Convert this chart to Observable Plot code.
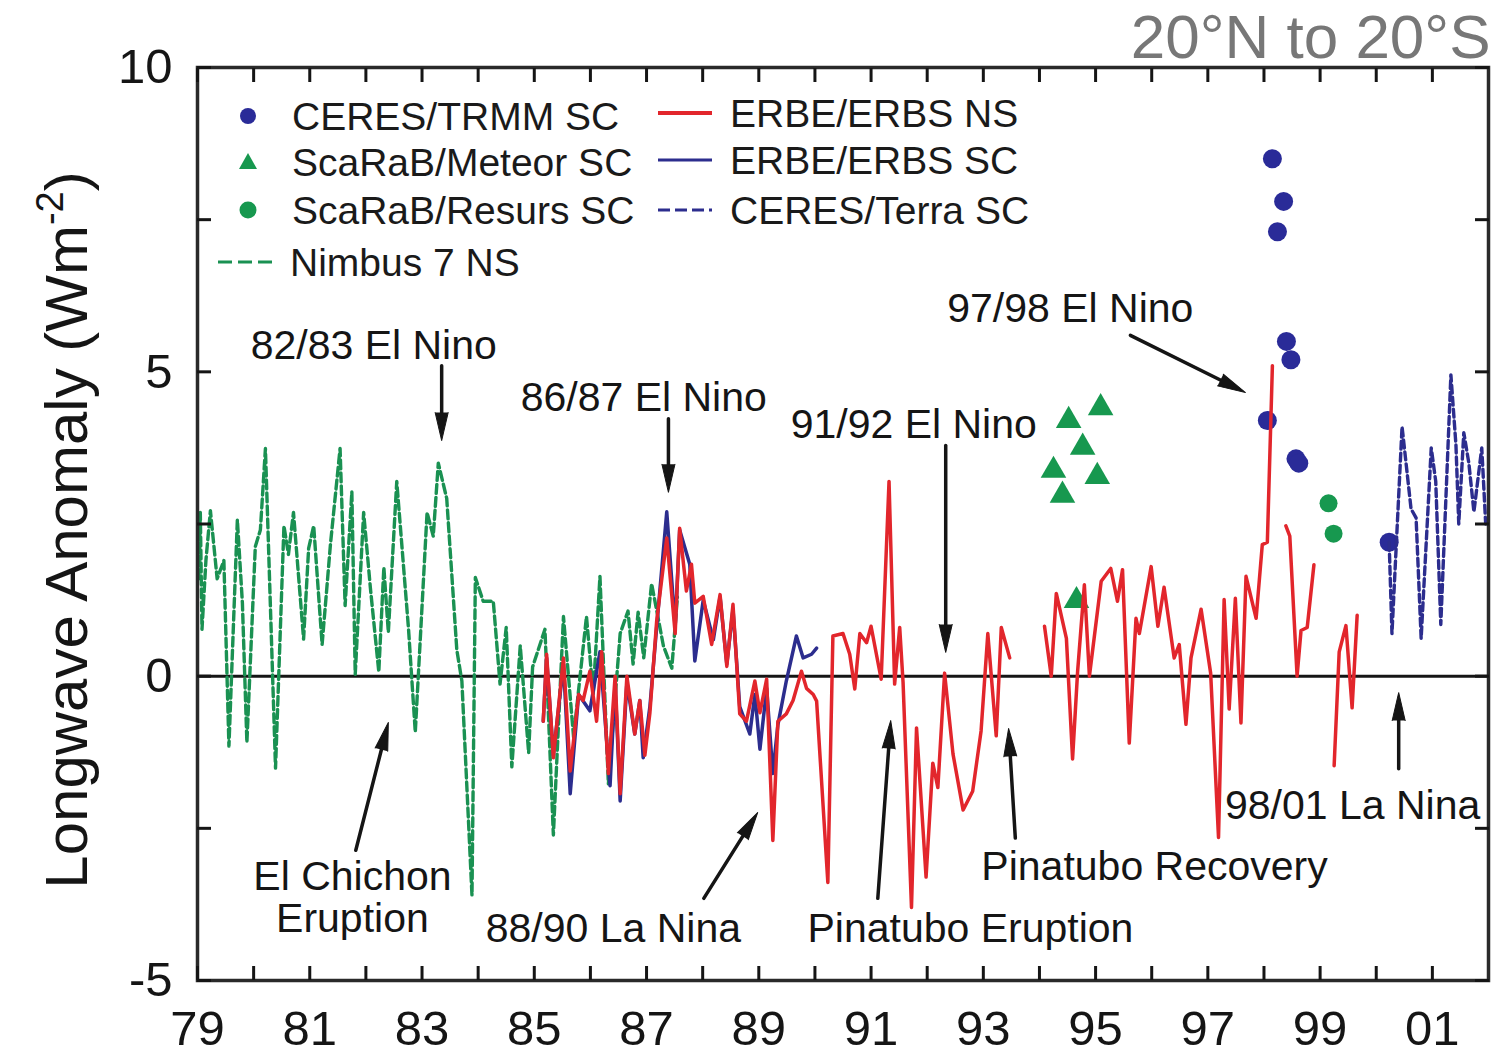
<!DOCTYPE html>
<html><head><meta charset="utf-8">
<script src="https://cdn.jsdelivr.net/npm/d3@7"></script>
<script src="https://cdn.jsdelivr.net/npm/@observablehq/plot@0.6"></script>
<style>
html,body{margin:0;padding:0;background:#fff;}
#chart{width:1501px;height:1054px;}
</style></head><body><div id="chart"></div>
<script>
const FONT = "'Liberation Sans', Arial, Helvetica, sans-serif";

// ---------- axes / ticks ----------
const xDomain = [1979, 2002];
const yDomain = [-5, 10];
const xTickYears = [1979,1980,1981,1982,1983,1984,1985,1986,1987,1988,1989,1990,1991,1992,1993,1994,1995,1996,1997,1998,1999,2000,2001];
const xLabelYears = [1979,1981,1983,1985,1987,1989,1991,1993,1995,1997,1999,2001];
const xLabels = ["79","81","83","85","87","89","91","93","95","97","99","01"];
const yTickValues = [-5,-2.5,0,2.5,5,7.5,10];
const yLabelValues = [-5,0,5,10];
const yLabels = ["-5","0","5","10"];

// ---------- series (year, anomaly W m-2) ----------
const nimbus7NS = [[1979.02,1.6],[1979.05,2.69],[1979.08,0.77],[1979.15,1.9],[1979.23,2.72],[1979.35,1.6],[1979.47,1.9],[1979.56,-1.15],[1979.71,2.57],[1979.8,1.2],[1979.88,-1.09],[1980.03,2.13],[1980.12,2.4],[1980.21,3.74],[1980.39,-1.51],[1980.54,2.47],[1980.62,2.0],[1980.71,2.69],[1980.89,0.61],[1980.98,2.1],[1981.07,2.47],[1981.22,0.52],[1981.37,2.18],[1981.54,3.74],[1981.63,1.16],[1981.75,3.03],[1981.81,0.03],[1981.96,2.69],[1982.08,1.45],[1982.23,0.07],[1982.32,1.79],[1982.40,0.72],[1982.55,3.2],[1982.76,0.77],[1982.88,-0.92],[1983.09,2.69],[1983.2,2.3],[1983.29,3.5],[1983.44,2.92],[1983.62,0.43],[1983.71,-0.08],[1983.89,-3.6],[1983.95,1.62],[1984.09,1.23],[1984.27,1.23],[1984.39,-0.13],[1984.5,0.8],[1984.60,-1.49],[1984.75,0.5],[1984.90,-1.26],[1984.97,0.15],[1985.19,0.77],[1985.34,-2.61],[1985.52,0.98],[1985.7,-1.0],[1985.93,0.98],[1986.05,-0.3],[1986.17,1.64],[1986.32,-1.77],[1986.53,0.7],[1986.67,1.07],[1986.76,0.2],[1986.85,1.05],[1986.95,0.3],[1987.09,1.52],[1987.3,0.5],[1987.45,0.13],[1987.55,1.3]];

const erbeNS = [[1985.16,-0.74],[1985.22,0.36],[1985.34,-1.34],[1985.52,0.3],[1985.64,-1.56],[1985.79,-0.3],[1985.87,-0.4],[1985.99,0.08],[1986.11,-0.74],[1986.20,0.4],[1986.32,-1.6],[1986.44,0],[1986.53,-1.93],[1986.65,0],[1986.79,-0.95],[1986.88,-0.4],[1986.97,-1.3],[1987.06,-0.6],[1987.18,0.9],[1987.36,2.27],[1987.51,0.7],[1987.59,2.43],[1987.71,1.4],[1987.80,1.84],[1987.86,1.2],[1988.01,1.31],[1988.16,0.52],[1988.31,1.34],[1988.43,0.16],[1988.54,1.18],[1988.66,-0.62],[1988.78,-0.74],[1988.93,-0.08],[1989.02,-0.6],[1989.14,-0.05],[1989.25,-2.7],[1989.34,-0.74],[1989.49,-0.62],[1989.61,-0.4],[1989.76,0.08],[1989.85,-0.2],[1989.97,-0.3],[1990.03,-0.41],[1990.23,-3.39],[1990.32,0.66],[1990.50,0.7],[1990.62,0.36],[1990.71,-0.21],[1990.80,0.7],[1990.92,0.55],[1991.00,0.82],[1991.18,-0.05],[1991.32,3.2],[1991.42,-0.13],[1991.51,0.8],[1991.57,-0.1],[1991.72,-3.8],[1991.81,-0.85],[1991.98,-3.3],[1992.10,-1.43],[1992.19,-1.83],[1992.31,0.05],[1992.46,-1.28],[1992.64,-2.2],[1992.81,-1.89],[1992.96,-0.9],[1993.08,0.7],[1993.23,-0.98],[1993.32,0.8],[1993.47,0.3],
  [1993.8,null],
  [1994.09,0.82],[1994.21,0],[1994.30,1.36],[1994.48,0.62],[1994.59,-1.36],[1994.68,0.08],[1994.80,1.5],[1994.89,0],[1995.10,1.56],[1995.27,1.77],[1995.39,1.23],[1995.48,1.75],[1995.60,-1.1],[1995.72,0.95],[1995.78,0.7],[1995.99,1.8],[1996.11,0.82],[1996.22,1.46],[1996.40,0.3],[1996.49,0.52],[1996.61,-0.79],[1996.70,0.3],[1996.88,1.1],[1997.05,0.05],[1997.19,-2.65],[1997.29,1.26],[1997.38,-0.54],[1997.49,1.28],[1997.59,-0.77],[1997.68,1.64],[1997.86,0.95],[1997.97,2.16],[1998.06,2.2],[1998.15,5.1],
  [1998.3,null],
  [1998.39,2.47],[1998.46,2.3],[1998.59,0],[1998.66,0.75],[1998.77,0.8],[1998.89,1.83],
  [1999.1,null],
  [1999.25,-1.47],[1999.34,0.4],[1999.46,0.83],[1999.57,-0.52],[1999.66,1.0]];

const erbeSC = [[1985.16,-0.74],[1985.22,0.3],[1985.34,-1.3],[1985.52,0.2],[1985.64,-1.93],[1985.79,-0.3],[1985.99,-0.57],[1986.17,0.4],[1986.35,-1.8],[1986.44,-0.1],[1986.53,-2.05],[1986.65,-0.1],[1986.79,-0.95],[1986.88,-0.4],[1986.94,-1.34],[1987.06,-0.5],[1987.18,0.8],[1987.36,2.7],[1987.51,0.8],[1987.59,2.4],[1987.77,1.84],[1987.86,0.25],[1988.01,1.25],[1988.19,0.6],[1988.31,1.3],[1988.43,0.2],[1988.54,1.1],[1988.66,-0.5],[1988.84,-0.95],[1988.93,-0.3],[1989.02,-1.2],[1989.14,-0.2],[1989.25,-1.6],[1989.34,-0.8],[1989.49,-0.08],[1989.67,0.66],[1989.79,0.3],[1989.94,0.36],[1990.03,0.46]];

const ceresTerraSC = [[2000.23,2.2],[2000.28,0.7],[2000.46,4.1],[2000.62,2.75],[2000.71,2.6],[2000.80,0.62],[2000.98,3.75],[2001.06,3.2],[2001.15,0.85],[2001.33,4.95],[2001.42,3.8],[2001.47,2.5],[2001.56,4.0],[2001.65,3.5],[2001.74,2.7],[2001.88,3.75],[2001.95,2.5]];

const ceresTrmmSC = [[1998.06,4.2],[1998.15,8.5],[1998.24,7.3],[1998.35,7.8],[1998.40,5.5],[1998.48,5.2],[1998.57,3.57],[1998.62,3.5],[2000.23,2.2]];
const scarabMeteorSC = [[1994.52,4.2],[1995.09,4.41],[1994.77,3.76],[1994.25,3.38],[1995.03,3.28],[1994.41,2.97],[1994.66,1.24]];
const scarabResursSC = [[1999.15,2.84],[1999.24,2.34]];

// ---------- annotations ----------
const annotLabels = ["82/83 El Nino","86/87 El Nino","91/92 El Nino","97/98 El Nino","El Chichon\nEruption","88/90 La Nina","Pinatubo Eruption","Pinatubo Recovery","98/01 La Nina"];
const annotLabelX = [1982.14,1986.95,1991.76,1994.55,1981.76,1986.41,1992.77,1996.05,1999.58];
const annotLabelY = [5.43,4.58,4.14,6.04,-3.64,-4.14,-4.14,-3.13,-2.12];
const arrowX1 = [1983.35,1987.39,1992.33,1995.62,1981.82,1988.02,1991.12,1993.57,2000.40];
const arrowY1 = [5.10,4.23,3.79,5.60,-2.86,-3.65,-3.65,-2.66,-1.52];
const arrowX2 = [1983.35,1987.39,1992.33,1997.67,1982.40,1988.98,1991.35,1993.45,2000.40];
const arrowY2 = [3.87,3.02,0.39,4.66,-0.76,-2.24,-0.73,-0.86,-0.27];

const legendLeft = ["CERES/TRMM SC","ScaRaB/Meteor SC","ScaRaB/Resurs SC","Nimbus 7 NS"];
const legendRight = ["ERBE/ERBS NS","ERBE/ERBS SC","CERES/Terra SC"];
const titleText = "20°N to 20°S";

// ---------- colours ----------
const GREEN_LINE = "#1a9152", GREEN_PT = "#17984f", RED = "#e2262c", BLUE = "#2c2d8e", BLUE_PT = "#2a2b98", INK = "#151515";

// ---------- build ----------
const W = 1501, H = 1054, ML = 197, MR = 13, MT = 67, MB = 74;
const pts = a => a.map(([x, y]) => ({x, y}));
const sx = v => ML + (v - xDomain[0]) / (xDomain[1] - xDomain[0]) * (W - ML - MR);
const sy = v => MT + (yDomain[1] - v) / (yDomain[1] - yDomain[0]) * (H - MT - MB);
const arrows = annotLabels.map((t, i) => {
  const dx = sx(arrowX2[i]) - sx(arrowX1[i]);
  const dy = sy(arrowY2[i]) - sy(arrowY1[i]);
  return {x1: arrowX1[i], y1: arrowY1[i], x2: arrowX2[i], y2: arrowY2[i], angle: Math.atan2(dx, -dy) * 180 / Math.PI};
});
const annots = annotLabels.map((t, i) => ({text: t, x: annotLabelX[i], y: annotLabelY[i]}));
const xLabelMap = new Map(xLabelYears.map((y, i) => [y, xLabels[i]]));
const yLabelMap = new Map(yLabelValues.map((v, i) => [v, yLabels[i]]));

const chart = Plot.plot({
  width: W, height: H,
  marginLeft: ML, marginRight: MR, marginTop: MT, marginBottom: MB,
  style: {fontFamily: FONT, background: "#fff", color: INK},
  x: {domain: xDomain},
  y: {domain: yDomain},
  marks: [
    Plot.ruleY([0], {stroke: INK, strokeWidth: 3}),
    Plot.line(pts(nimbus7NS), {x: "x", y: "y", stroke: GREEN_LINE, strokeWidth: 3.4, strokeDasharray: "9,4"}),
    Plot.dot(pts(ceresTrmmSC), {x: "x", y: "y", r: 9.5, fill: BLUE_PT}),
    Plot.dot(pts(scarabResursSC), {x: "x", y: "y", r: 9, fill: GREEN_PT}),
    Plot.dot(pts(scarabMeteorSC), {x: "x", y: "y", symbol: "triangle", r: 9.5, fill: GREEN_PT}),
    Plot.line(pts(erbeSC), {x: "x", y: "y", stroke: BLUE, strokeWidth: 3.5}),
    Plot.line(pts(erbeNS), {x: "x", y: "y", stroke: RED, strokeWidth: 3.5}),
    Plot.line(pts(ceresTerraSC), {x: "x", y: "y", stroke: BLUE, strokeWidth: 3.4, strokeDasharray: "8,4"}),
    Plot.arrow(arrows, {x1: "x1", y1: "y1", x2: "x2", y2: "y2", stroke: INK, strokeWidth: 3.5, headLength: 0, insetEnd: 14}),
    Plot.vector(arrows, {x: "x2", y: "y2", rotate: "angle", length: 28, r: 6.5, shape: "spike", anchor: "end", fill: INK, stroke: INK, strokeWidth: 1}),
    Plot.text(annots, {x: "x", y: "y", text: "text", fontSize: 41, fill: INK, lineHeight: 1.02}),
    Plot.frame({stroke: "#2a2a2a", strokeWidth: 3.5}),
    Plot.axisX(xTickYears, {anchor: "bottom", tickSize: -14, tickPadding: 44, strokeWidth: 3, fontSize: 49, fill: INK, label: null, tickFormat: d => xLabelMap.get(d) ?? ""}),
    Plot.axisX(xTickYears, {anchor: "top", tickSize: -14, strokeWidth: 3, label: null, tickFormat: () => ""}),
    Plot.axisY(yTickValues, {anchor: "left", tickSize: -14, tickPadding: 39, strokeWidth: 3, fontSize: 49, fill: INK, label: null, tickFormat: d => yLabelMap.get(d) ?? ""}),
    Plot.axisY(yTickValues, {anchor: "right", tickSize: -14, strokeWidth: 3, label: null, tickFormat: () => ""}),
    Plot.text([titleText], {frameAnchor: "top-right", dx: 2, dy: -10, lineAnchor: "bottom", textAnchor: "end", fontSize: 62, fill: "#777"})
  ]
});
document.getElementById("chart").appendChild(chart);

// ---------- y-axis title with superscript ----------
const svg = d3.select(chart);
const yt = svg.append("text")
  .attr("transform", "translate(87,530) rotate(-90)")
  .attr("text-anchor", "middle").attr("font-family", FONT).attr("font-size", 60).attr("fill", INK);
yt.append("tspan").text("Longwave Anomaly (Wm");
yt.append("tspan").attr("font-size", 38).attr("dy", -24).text("-2");
yt.append("tspan").attr("dy", 24).text(")");

// ---------- legend (inside frame) ----------
const lg = svg.append("g").attr("font-family", FONT).attr("font-size", 39).attr("fill", "#1a1a1a").attr("text-anchor", "start");
const rowsL = [116, 162, 210, 262], rowsR = [113, 160, 210];
lg.append("circle").attr("cx", 248).attr("cy", rowsL[0]).attr("r", 8).attr("fill", BLUE_PT);
lg.append("path").attr("d", `M248,${rowsL[1]-9}L257,${rowsL[1]+7}L239,${rowsL[1]+7}Z`).attr("fill", GREEN_PT);
lg.append("circle").attr("cx", 248).attr("cy", rowsL[2]).attr("r", 8.5).attr("fill", GREEN_PT);
lg.append("line").attr("x1", 218).attr("x2", 278).attr("y1", rowsL[3]).attr("y2", rowsL[3]).attr("stroke", GREEN_LINE).attr("stroke-width", 3.2).attr("stroke-dasharray", "14,6");
legendLeft.forEach((t, i) => lg.append("text").attr("text-anchor", "start").attr("x", i === 3 ? 290 : 292).attr("y", rowsL[i]).attr("dy", "0.36em").text(t));
lg.append("line").attr("x1", 658).attr("x2", 712).attr("y1", rowsR[0]).attr("y2", rowsR[0]).attr("stroke", RED).attr("stroke-width", 4);
lg.append("line").attr("x1", 658).attr("x2", 712).attr("y1", rowsR[1]).attr("y2", rowsR[1]).attr("stroke", BLUE).attr("stroke-width", 3.2);
lg.append("line").attr("x1", 658).attr("x2", 712).attr("y1", rowsR[2]).attr("y2", rowsR[2]).attr("stroke", BLUE).attr("stroke-width", 3.2).attr("stroke-dasharray", "12,5");
legendRight.forEach((t, i) => lg.append("text").attr("text-anchor", "start").attr("x", 730).attr("y", rowsR[i]).attr("dy", "0.36em").text(t));
</script>
</body></html>
